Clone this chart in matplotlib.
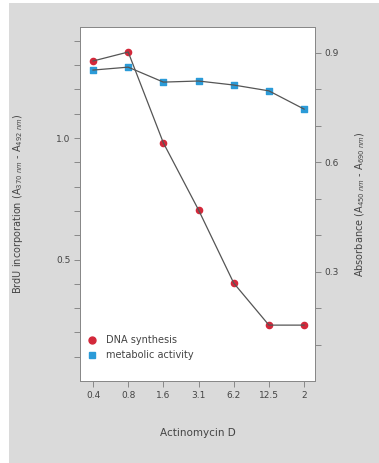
import matplotlib; matplotlib.use('Agg')  # noqa: E702
import matplotlib.pyplot as plt
from matplotlib.patches import Rectangle
from matplotlib.lines import Line2D

doses = ['0.4', '0.8', '1.6', '3.1', '6.2', '12.5', '2']
dna_synthesis = [1.317, 1.354, 0.98, 0.704, 0.403, 0.23, 0.23]
metabolic_activity = [0.852, 0.860, 0.819, 0.822, 0.811, 0.795, 0.745]

RED = '#d3283a'
BLUE = '#2b9bd8'
LINE = '#555555'
TXT = '#444444'
GRID = '#888888'

fig = plt.figure(figsize=(3.79, 4.63), dpi=100, facecolor='white')
fig.patches.append(Rectangle((9 / 379, 0), 1, 1 - 3 / 463, transform=fig.transFigure,
                             facecolor='#dadada', edgecolor='none', zorder=-10))

ax = fig.add_axes([80 / 379, 1 - 381 / 463, 235 / 379, 354 / 463])
ax2 = ax.twinx()
x = list(range(len(doses)))

ax.plot(x, dna_synthesis, color=LINE, lw=0.9, zorder=3)
ax.scatter(x, dna_synthesis, s=20, color=RED, zorder=2)
ax2.plot(x, metabolic_activity, color=LINE, lw=0.9, zorder=3)
ax2.scatter(x, metabolic_activity, s=20, marker='s', color=BLUE, zorder=2)

ax.set_xlim(-0.37, 6.31)
ax.set_ylim(0, 1.457)
ax2.set_ylim(0, 0.97)

ax.set_xticks(x)
ax.set_xticklabels(doses)
ax.set_yticks([0.5, 1.0])
ax.set_yticklabels(['0.5', '1.0'])
ax.set_yticks([0.1, 0.2, 0.3, 0.4, 0.6, 0.7, 0.8, 0.9, 1.1, 1.2, 1.3, 1.4], minor=True)
ax2.set_yticks([0.3, 0.6, 0.9])
ax2.set_yticklabels(['0.3', '0.6', '0.9'])
ax2.set_yticks([0.1, 0.2, 0.4, 0.5, 0.7, 0.8], minor=True)

for a in (ax, ax2):
    a.tick_params(which='both', length=4, width=0.7, color=GRID, labelsize=6.5,
                  labelcolor=TXT, pad=3)
    for s in a.spines.values():
        s.set_color(GRID)
        s.set_linewidth(0.7)

ax.set_xlabel('Actinomycin D', fontsize=7.5, color=TXT, labelpad=20)
ax.set_ylabel('BrdU incorporation (A$_{370\\ nm}$ - A$_{492\\ nm}$)', fontsize=7,
              color=TXT, labelpad=22)
ax2.set_ylabel('Absorbance (A$_{450\\ nm}$ - A$_{690\\ nm}$)', fontsize=7,
               color=TXT, labelpad=10)

handles = [Line2D([], [], ls='none', marker='o', ms=5, color=RED),
           Line2D([], [], ls='none', marker='s', ms=5, color=BLUE)]
ax.legend(handles, ['DNA synthesis', 'metabolic activity'], loc='lower left',
          bbox_to_anchor=(-0.02, 0.04), frameon=False, fontsize=7,
          labelcolor=TXT, handletextpad=0.5, borderaxespad=0.3)

fig.savefig('out.png', dpi=100)
